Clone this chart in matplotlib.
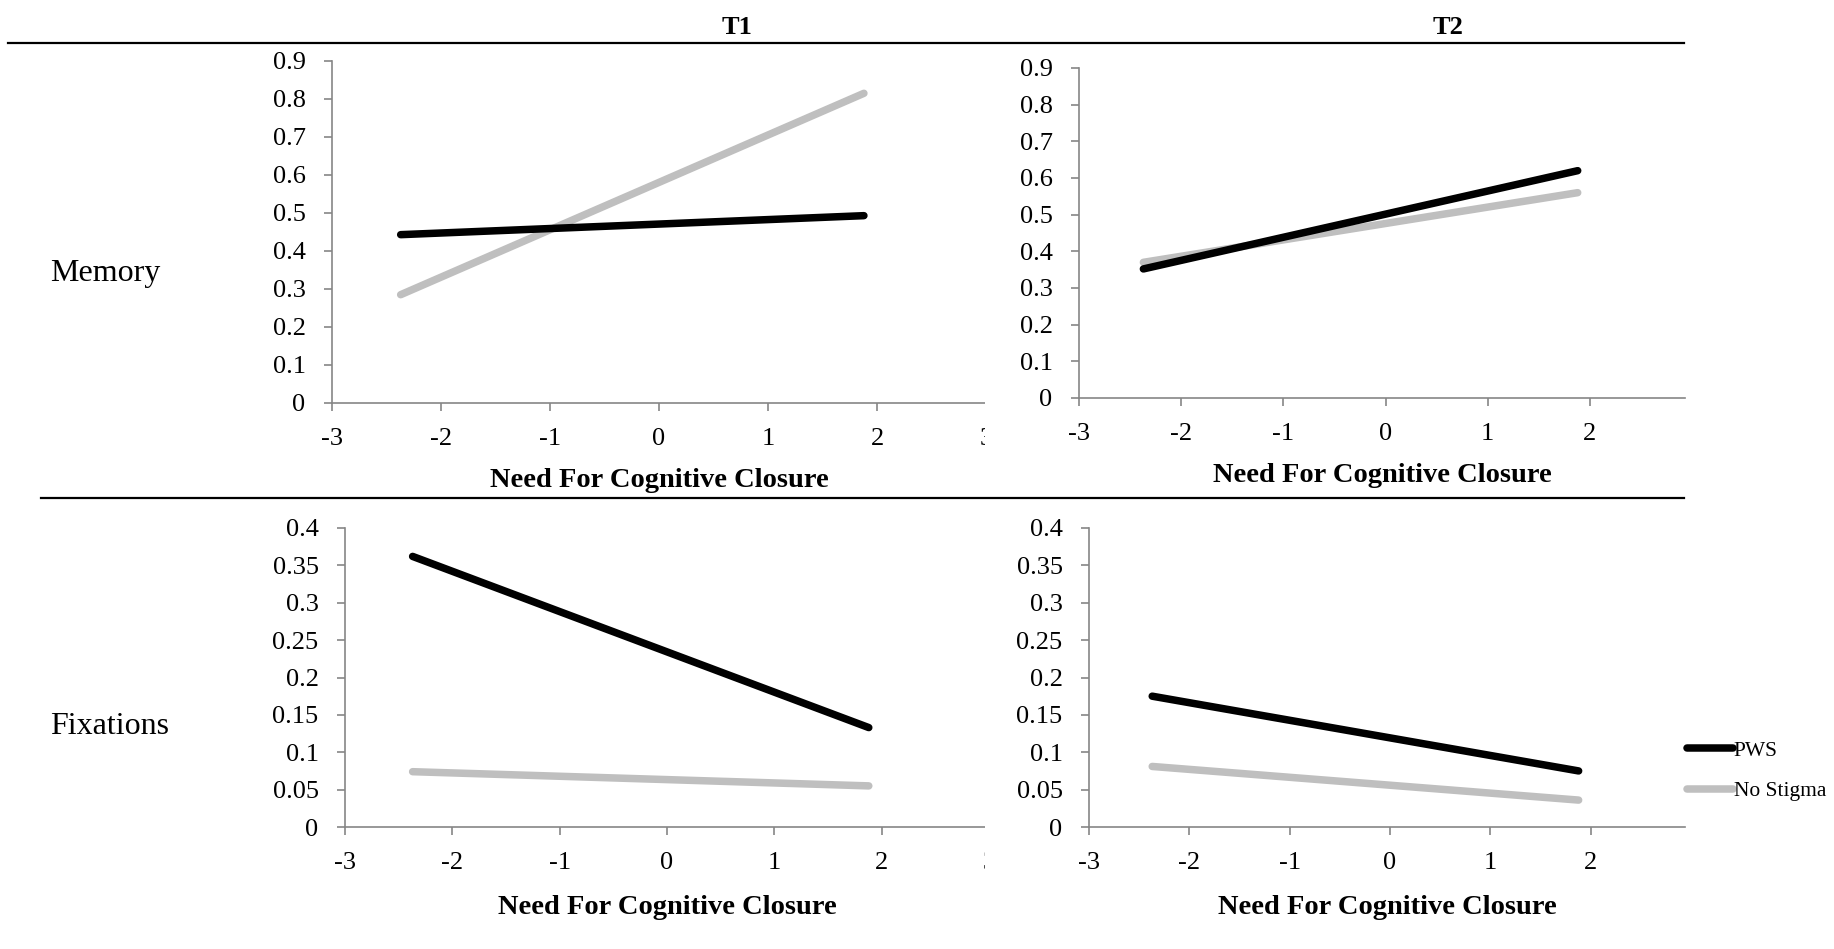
import matplotlib
matplotlib.use("Agg")
import matplotlib.pyplot as plt
from matplotlib.lines import Line2D
from matplotlib.ticker import FuncFormatter

plt.rcParams['font.family'] = ['Liberation Serif', 'DejaVu Serif']
plt.rcParams['axes.unicode_minus'] = False

# NFC values (-1 SD / +1 SD style endpoints)
x_nfc = [-2.37, 1.88]
x_ticks = [-3, -2, -1, 0, 1, 2, 3]

memory_t1_pws = [0.443, 0.493]
memory_t1_nostigma = [0.285, 0.815]
memory_t2_pws = [0.352, 0.620]
memory_t2_nostigma = [0.370, 0.560]

fix_t1_pws = [0.362, 0.133]
fix_t1_nostigma = [0.074, 0.055]
fix_t2_pws = [0.175, 0.075]
fix_t2_nostigma = [0.081, 0.036]

memory_yticks = [0, 0.1, 0.2, 0.3, 0.4, 0.5, 0.6, 0.7, 0.8, 0.9]
fix_yticks = [0, 0.05, 0.1, 0.15, 0.2, 0.25, 0.3, 0.35, 0.4]

series_labels = ['PWS', 'No Stigma']
col_titles = ['T1', 'T2']
row_labels = ['Memory', 'Fixations']
xlabel = 'Need For Cognitive Closure'

PWS_COLOR = 'black'
NS_COLOR = '#bfbfbf'
AXIS_COLOR = '#868686'

W, H = 1834, 949
fig = plt.figure(figsize=(W / 100, H / 100), dpi=100)


def px_rect(left, right, top, bottom):
    return [left / W, 1 - bottom / H, (right - left) / W, (bottom - top) / H]


def style_axes(ax, xmax, yticks, ymax, lpad):
    ax.set_xlim(-3, xmax)
    ax.set_ylim(0, ymax)
    ax.set_xticks([t for t in x_ticks if t <= xmax])
    ax.set_yticks(yticks)
    ax.yaxis.set_major_formatter(FuncFormatter(lambda v, p: '%g' % round(v, 3)))
    for side in ('top', 'right'):
        ax.spines[side].set_visible(False)
    for side in ('left', 'bottom'):
        ax.spines[side].set_color(AXIS_COLOR)
        ax.spines[side].set_linewidth(1.2)
    ax.tick_params(direction='out', length=6, width=1.2, color=AXIS_COLOR,
                   labelsize=19)
    ax.tick_params(axis='x', pad=12)
    ax.tick_params(axis='y', pad=13)
    ax.set_xlabel(xlabel, fontsize=20.5, fontweight='bold', labelpad=lpad)
    ax.patch.set_alpha(0)


def draw(ax, pws, nostigma):
    l2, = ax.plot(x_nfc, nostigma, color=NS_COLOR, lw=5.4, solid_capstyle='round',
                  label=series_labels[1], clip_on=False)
    l1, = ax.plot(x_nfc, pws, color=PWS_COLOR, lw=5.4, solid_capstyle='round',
                  label=series_labels[0], clip_on=False)
    return l1, l2


# T1 charts (left) sit underneath the T2 chart areas
ax_a = fig.add_axes(px_rect(332, 986, 61, 403), zorder=0)
style_axes(ax_a, 3, memory_yticks, 0.9, 13)
draw(ax_a, memory_t1_pws, memory_t1_nostigma)

ax_c = fig.add_axes(px_rect(345, 989, 528, 827), zorder=0)
style_axes(ax_c, 3, fix_yticks, 0.4, 15)
draw(ax_c, fix_t1_pws, fix_t1_nostigma)

# white chart area of the T2 charts covering the right end of the T1 charts
cover = fig.add_axes(px_rect(985, 1685, 45, 949), zorder=1)
cover.set_facecolor('white')
cover.set_xticks([])
cover.set_yticks([])
for s in cover.spines.values():
    s.set_visible(False)

ax_b = fig.add_axes(px_rect(1079, 1685, 68, 398), zorder=2)
style_axes(ax_b, 2.93, memory_yticks, 0.9, 13)
draw(ax_b, memory_t2_pws, memory_t2_nostigma)

ax_d = fig.add_axes(px_rect(1089, 1685, 528, 827), zorder=2)
style_axes(ax_d, 2.94, fix_yticks, 0.4, 15)
handles = draw(ax_d, fix_t2_pws, fix_t2_nostigma)

# table rules, titles, row labels
fig.add_artist(Line2D([8 / W, 1684 / W], [1 - 43 / H] * 2, color='black', lw=1.6, zorder=5))
fig.add_artist(Line2D([41 / W, 1684 / W], [1 - 498 / H] * 2, color='black', lw=1.6, zorder=5))
fig.text(737 / W, 1 - 28 / H, col_titles[0], ha='center', va='center',
         fontsize=19, fontweight='bold', zorder=5)
fig.text(1448 / W, 1 - 28 / H, col_titles[1], ha='center', va='center',
         fontsize=19, fontweight='bold', zorder=5)
fig.text(50 / W, 1 - 273 / H, row_labels[0], ha='left', va='center', fontsize=23, zorder=5)
fig.text(50 / W, 1 - 727 / H, row_labels[1], ha='left', va='center', fontsize=23, zorder=5)

leg = fig.legend(handles=list(handles), loc='center left',
                 bbox_to_anchor=(1668 / W, 1 - 771 / H), frameon=False,
                 fontsize=15.5, handlelength=2.1, handletextpad=0.05,
                 labelspacing=0.95)
leg.set_zorder(6)

fig.savefig('out.png', dpi=100)
